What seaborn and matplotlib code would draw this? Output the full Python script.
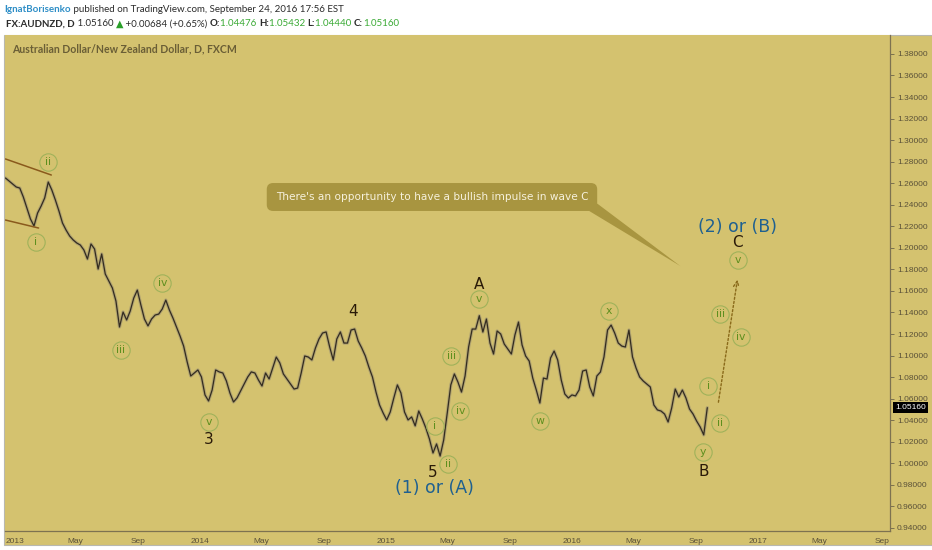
import matplotlib
matplotlib.use("Agg")
import matplotlib.pyplot as plt
import matplotlib.dates as mdates
import matplotlib.transforms as mtransforms
from matplotlib.patches import Rectangle, Polygon
import pandas as pd
import seaborn as sns

# weekly closes of AUDNZD (Fridays from 2012-12-14)
start_date = "2012-12-14"
weekly_close = [
    1.2648, 1.2620, 1.2593, 1.2565, 1.2555, 1.2472, 1.2370, 1.2268, 1.2203, 1.2323,
    1.2388, 1.2463, 1.2611, 1.2537, 1.2444, 1.2342, 1.2230, 1.2165, 1.2110, 1.2073,
    1.2045, 1.2026, 1.1980, 1.1896, 1.2036, 1.1989, 1.1803, 1.1943, 1.1757, 1.1692,
    1.1627, 1.1506, 1.1265, 1.1404, 1.1330, 1.1413, 1.1534, 1.1608, 1.1469, 1.1339,
    1.1275, 1.1339, 1.1376, 1.1385, 1.1432, 1.1515, 1.1423, 1.1348, 1.1265, 1.1181,
    1.1088, 1.0940, 1.0810, 1.0838, 1.0866, 1.0801, 1.0634, 1.0578, 1.0680, 1.0866,
    1.0848, 1.0838, 1.0764, 1.0652, 1.0569, 1.0607, 1.0671, 1.0737, 1.0801, 1.0848,
    1.0838, 1.0773, 1.0717, 1.0838, 1.0782, 1.0884, 1.0986, 1.0931, 1.0829, 1.0782,
    1.0736, 1.0689, 1.0698, 1.0838, 1.0996, 1.0986, 1.0959, 1.1070, 1.1154, 1.1209,
    1.1219, 1.1079, 1.0959, 1.1154, 1.1219, 1.1116, 1.1116, 1.1237, 1.1246, 1.1135,
    1.1070, 1.0996, 1.0893, 1.0801, 1.0661, 1.0541, 1.0467, 1.0402, 1.0476, 1.0606,
    1.0727, 1.0652, 1.0476, 1.0402, 1.0430, 1.0347, 1.0485, 1.0411, 1.0327, 1.0225,
    1.0095, 1.0179, 1.0067, 1.0216, 1.0466, 1.0727, 1.0829, 1.0754, 1.0661, 1.0810,
    1.1079, 1.1246, 1.1246, 1.1370, 1.1218, 1.1339, 1.1116, 1.1014, 1.1228, 1.1200,
    1.1107, 1.1061, 1.1014, 1.1191, 1.1311, 1.1098, 1.0996, 1.0949, 1.0791, 1.0680,
    1.0559, 1.0791, 1.0782, 1.0977, 1.1042, 1.0959, 1.0773, 1.0643, 1.0606, 1.0634,
    1.0625, 1.0680, 1.0856, 1.0866, 1.0708, 1.0625, 1.0810, 1.0847, 1.0987, 1.1237,
    1.1283, 1.1209, 1.1116, 1.1088, 1.1079, 1.1237, 1.0987, 1.0884, 1.0801, 1.0764,
    1.0736, 1.0708, 1.0541, 1.0495, 1.0485, 1.0457, 1.0383, 1.0513, 1.0689, 1.0615,
    1.0680, 1.0606, 1.0504, 1.0457, 1.0392, 1.0337, 1.0263, 1.0516,
]
last_price = 1.05160

# small circled wave counts
circle_labels = ["ii", "i", "iii", "iv", "v", "v", "iii", "iv", "i", "ii",
                 "w", "x", "y", "i", "ii", "iii", "iv", "v"]
circle_dates = ["2013-03-08", "2013-02-11", "2013-07-28", "2013-10-18", "2014-01-17",
                "2015-07-03", "2015-05-09", "2015-05-27", "2015-04-06", "2015-05-03",
                "2015-10-31", "2016-03-14", "2016-09-15", "2016-09-25", "2016-10-18",
                "2016-10-18", "2016-11-28", "2016-11-22"]
circle_prices = [1.2797, 1.2054, 1.1051, 1.1673, 1.0383,
                 1.1525, 1.0996, 1.0485, 1.0346, 0.9993,
                 1.0392, 1.1413, 1.0104, 1.0717, 1.0373,
                 1.1386, 1.1172, 1.1887]

# primary wave labels
wave_labels = ["3", "4", "5", "A", "B", "C"]
wave_dates = ["2014-01-18", "2014-10-28", "2015-04-02", "2015-07-03", "2016-09-16", "2016-11-22"]
wave_prices = [1.0216, 1.1413, 0.9918, 1.1664, 0.9928, 1.2054]

# larger degree labels
degree_labels = ["(1) or (A)", "(2) or (B)"]
degree_dates = ["2015-04-06", "2016-11-22"]
degree_prices = [0.9770, 1.2193]

note_text = "There's an opportunity to have a bullish impulse in wave C"

W, H = 932, 550
BG = "#d4c26f"
fig = plt.figure(figsize=(W / 100, H / 100), dpi=100)
fig.patch.set_facecolor("white")

sns.set_style("white")
plt.rcParams["font.family"] = ["DejaVu Sans"]

# chart panel background
fig.patches.append(Rectangle((4 / W, 1 - 545 / H), 928 / W, 510 / H,
                             transform=fig.transFigure, facecolor=BG,
                             edgecolor="#b8b8b0", linewidth=0.8, zorder=-5))

ax = fig.add_axes([5 / W, 1 - 531 / H, 885 / W, 496 / H])
ax.set_zorder(2)
ax.set_facecolor(BG)

dates = pd.date_range(start_date, periods=len(weekly_close), freq="W-FRI")
df = pd.DataFrame({"date": dates, "close": weekly_close})

sns.lineplot(data=df, x="date", y="close", ax=ax, color="#9a8f72",
             linewidth=2.4, alpha=0.6)
sns.lineplot(data=df, x="date", y="close", ax=ax, color="#332c20", linewidth=0.9)

# wedge lines at the start
d = mdates.date2num
ax.plot([d(pd.Timestamp("2012-12-14")), d(pd.Timestamp("2013-03-14"))],
        [1.2825, 1.2676], color="#8a5a1c", linewidth=1.1)
ax.plot([d(pd.Timestamp("2012-12-14")), d(pd.Timestamp("2013-02-17"))],
        [1.2258, 1.2184], color="#8a5a1c", linewidth=1.1)

# circled counts
cd = pd.to_datetime(circle_dates)
ax.plot(cd, circle_prices, "o", ms=12.5, mfc="none", mec="#9fb25a", mew=0.8)
for lab, dt, pr in zip(circle_labels, cd, circle_prices):
    ax.text(dt, pr, lab, color="#5e8f1e", fontsize=7.8, ha="center", va="center")

for lab, dt, pr in zip(wave_labels, pd.to_datetime(wave_dates), wave_prices):
    ax.text(dt, pr, lab, color="#2a1a08", fontsize=11, ha="center", va="center")

for lab, dt, pr in zip(degree_labels, pd.to_datetime(degree_dates), degree_prices):
    ax.text(dt, pr, lab, color="#1f6090", fontsize=12.5, ha="center", va="center")

# projected wave C arrow
ax.annotate("", xy=(pd.Timestamp("2016-11-22"), 1.1729),
            xytext=(pd.Timestamp("2016-10-14"), 1.0541),
            arrowprops=dict(arrowstyle="->", linestyle=(0, (1.5, 1.5)),
                            color="#8a6a1a", linewidth=1.0))

# callout
CALL = "#a89540"
tail = Polygon([(d(pd.Timestamp("2016-02-04")), 1.2342),
                (d(pd.Timestamp("2016-02-20")), 1.2410),
                (d(pd.Timestamp("2016-08-01")), 1.1831)],
               closed=True, facecolor=CALL, edgecolor="none", zorder=4)
ax.add_patch(tail)
ax.text(pd.Timestamp("2015-04-01"), 1.2472, note_text, color="#f6f1dc",
        fontsize=7.6, ha="center", va="center", zorder=5,
        bbox=dict(boxstyle="round,pad=0.85,rounding_size=0.6", fc=CALL, ec="none"))

# axes
ax.set_xlim(pd.Timestamp("2012-12-13"), pd.Timestamp("2017-09-17"))
ax.set_ylim(0.9371, 1.3976)
ax.set_xlabel("")
ax.set_ylabel("")

ax.xaxis.set_major_locator(mdates.MonthLocator(bymonth=[1, 5, 9]))
ax.xaxis.set_major_formatter(plt.FuncFormatter(
    lambda v, pos: mdates.num2date(v).strftime("%Y") if mdates.num2date(v).month == 1
    else mdates.num2date(v).strftime("%b")))

ax.yaxis.tick_right()
ax.set_yticks([0.94 + 0.02 * i for i in range(23)])
ax.yaxis.set_major_formatter(plt.FuncFormatter(lambda v, pos: f"{v:.5f}"))

ax.tick_params(axis="both", colors="#6e6448", labelcolor="#5a5138", labelsize=6,
               length=3, width=0.6, direction="out", pad=2)
for lab in ax.get_xticklabels() + ax.get_yticklabels():
    lab.set_fontfamily("Liberation Sans")

for side in ["top", "left"]:
    ax.spines[side].set_visible(False)
ax.spines["right"].set_color("#7d7250")
ax.spines["bottom"].set_color("#7d7250")
ax.spines["right"].set_linewidth(0.9)
ax.spines["bottom"].set_linewidth(0.9)

# last price marker on the price scale
trans = mtransforms.blended_transform_factory(ax.transAxes, ax.transData)
ax.text(1.006, last_price, f"{last_price:.5f}", transform=trans, color="white",
        fontsize=6, ha="left", va="center", family="Liberation Sans",
        bbox=dict(boxstyle="square,pad=0.25", fc="black", ec="none"), clip_on=False)

# chart title inside panel
ax.text(7 / 885, 1 - 14 / 496, "Australian Dollar/New Zealand Dollar, D, FXCM",
        transform=ax.transAxes, color="#6a5e36", fontsize=7.6, fontweight="bold",
        ha="left", va="center", family="Lato")

# header lines
renderer = fig.canvas.get_renderer()


def header_line(x_px, y_px, pieces, size):
    x = x_px
    for text, color, weight in pieces:
        t = fig.text(x / W, 1 - y_px / H, text, color=color, fontsize=size,
                     fontweight=weight, ha="left", va="center",
                     family=["Lato", "DejaVu Sans"])
        x += t.get_window_extent(renderer=renderer).width


GREEN = "#3aaa35"
DARK = "#2b2b2b"
header_line(4, 9, [("IgnatBorisenko", "#2e8ec7", "bold"),
                   (" published on TradingView.com, September 24, 2016 17:56 EST", DARK, "normal")], 7.0)
header_line(6, 24, [("FX:AUDNZD, D", DARK, "bold"), (" 1.05160 ", DARK, "normal"),
                    ("\u25B2", "#2aa02a", "normal"), (" +0.00684 (+0.65%) ", DARK, "normal"),
                    ("O:", DARK, "bold"), ("1.04476 ", GREEN, "normal"),
                    ("H:", DARK, "bold"), ("1.05432 ", GREEN, "normal"),
                    ("L:", DARK, "bold"), ("1.04440 ", GREEN, "normal"),
                    ("C:", DARK, "bold"), ("1.05160", GREEN, "normal")], 7.0)

fig.savefig("out.png", dpi=100, facecolor=fig.get_facecolor())
